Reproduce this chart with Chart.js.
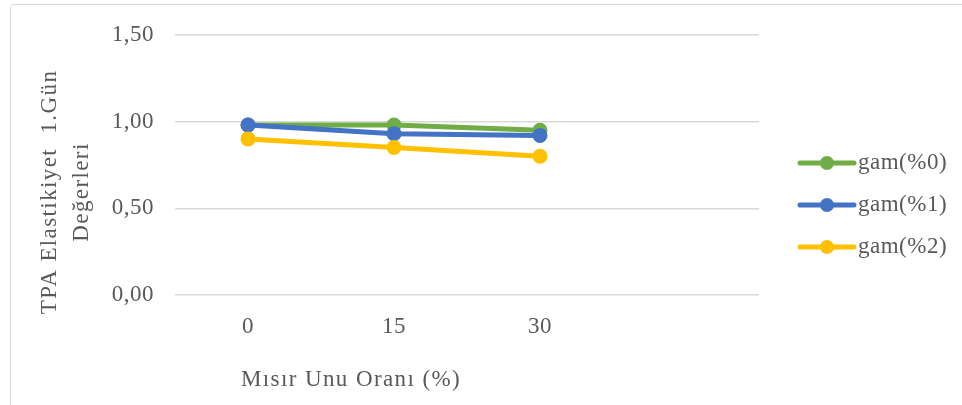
<!DOCTYPE html>
<html>
<head>
<meta charset="utf-8">
<script src="https://cdn.jsdelivr.net/npm/chart.js@4/dist/chart.umd.min.js"></script>
<style>
  html, body { margin: 0; padding: 0; background: #fff; }
  #wrap { position: relative; width: 962px; height: 405px; overflow: hidden; }
  #frame { position: absolute; left: 10px; top: 4px; width: 1000px; height: 500px;
           border: 1px solid #d9d9d9; border-radius: 4px; box-sizing: border-box; }
  #c { position: absolute; left: 0; top: 0; }
</style>
</head>
<body>
<div id="wrap">
  <div id="frame"></div>
  <canvas id="c" width="962" height="405"></canvas>
</div>
<script>
// Corn flour ratio (%) — the fourth slot is an empty category
const categories = ['0', '15', '30', ''];
const seriesNames = ['gam(%0)', 'gam(%1)', 'gam(%2)'];
const gam0 = [0.98, 0.98, 0.95, null];
const gam1 = [0.98, 0.93, 0.92, null];
const gam2 = [0.90, 0.85, 0.80, null];
const seriesColors = ['#70AD47', '#4472C4', '#FFC000'];
const yTicks = [0, 0.5, 1.0, 1.5];
const yTitleLines = ['TPA Elastikiyet  1.Gün', 'Değerleri'];
const xTitle = 'Mısır Unu Oranı (%)';

const FONT = '"Liberation Serif", "Times New Roman", serif';
const TEXT = '#595959';
const FS = 23;

const values = [gam0, gam1, gam2];
const datasets = values.map((v, i) => ({
  label: seriesNames[i],
  data: v,
  borderColor: seriesColors[i],
  backgroundColor: seriesColors[i],
  borderWidth: 5,
  pointRadius: 7.5,
  pointHoverRadius: 7.5,
  pointBorderWidth: 0,
  tension: 0,
  order: 3 - i
}));

// Slightly open letter spacing for the tick labels
const spacing = {
  id: 'spacing',
  beforeDraw(chart) { chart.ctx.letterSpacing = '0.5px'; }
};

// Axis titles and the right-hand legend (line + marker per series)
const extras = {
  id: 'extras',
  afterDraw(chart) {
    const ctx = chart.ctx;
    ctx.save();
    ctx.fillStyle = TEXT;
    ctx.font = FS + 'px ' + FONT;
    ctx.textAlign = 'center';
    ctx.textBaseline = 'middle';
    ctx.letterSpacing = '1.4px';
    ctx.fillText(xTitle, 351, 380);

    ctx.save();
    ctx.translate(50, 192);
    ctx.rotate(-Math.PI / 2);
    ctx.fillText(yTitleLines[0], 0, 0);
    ctx.restore();
    ctx.save();
    ctx.translate(82, 192);
    ctx.rotate(-Math.PI / 2);
    ctx.fillText(yTitleLines[1], 0, 0);
    ctx.restore();

    ctx.letterSpacing = '0.5px';
    const rows = [163, 205, 247];
    chart.data.datasets.forEach((ds, i) => {
      const y = rows[i];
      ctx.strokeStyle = ds.borderColor;
      ctx.lineWidth = 5;
      ctx.lineCap = 'round';
      ctx.beginPath();
      ctx.moveTo(800, y);
      ctx.lineTo(854, y);
      ctx.stroke();
      ctx.fillStyle = ds.borderColor;
      ctx.beginPath();
      ctx.arc(827, y, 7, 0, Math.PI * 2);
      ctx.fill();
      ctx.fillStyle = TEXT;
      ctx.textAlign = 'left';
      ctx.fillText(ds.label, 858, y);
    });
    ctx.restore();
  }
};

new Chart(document.getElementById('c'), {
  type: 'line',
  data: { labels: categories, datasets },
  options: {
    responsive: false,
    animation: false,
    devicePixelRatio: 1,
    layout: { padding: { left: 0, right: 203, top: 33, bottom: 0 } },
    plugins: { legend: { display: false }, tooltip: { enabled: false } },
    scales: {
      x: {
        type: 'category',
        offset: true,
        grid: { display: false, drawTicks: false },
        border: { display: false },
        ticks: { color: TEXT, font: { family: FONT, size: FS }, padding: 18, maxRotation: 0 },
        afterFit(s) { s.height = 110; }
      },
      y: {
        min: 0,
        max: 1.5,
        afterBuildTicks(s) { s.ticks = yTicks.map(v => ({ value: v })); },
        grid: { color: '#d9d9d9', lineWidth: 1.5, drawTicks: false },
        border: { display: false },
        ticks: {
          color: TEXT,
          font: { family: FONT, size: FS },
          padding: 21,
          callback: v => Number(v).toFixed(2).replace('.', ',')
        },
        afterFit(s) { s.width = 175; }
      }
    }
  },
  plugins: [spacing, extras]
});
</script>
</body>
</html>
